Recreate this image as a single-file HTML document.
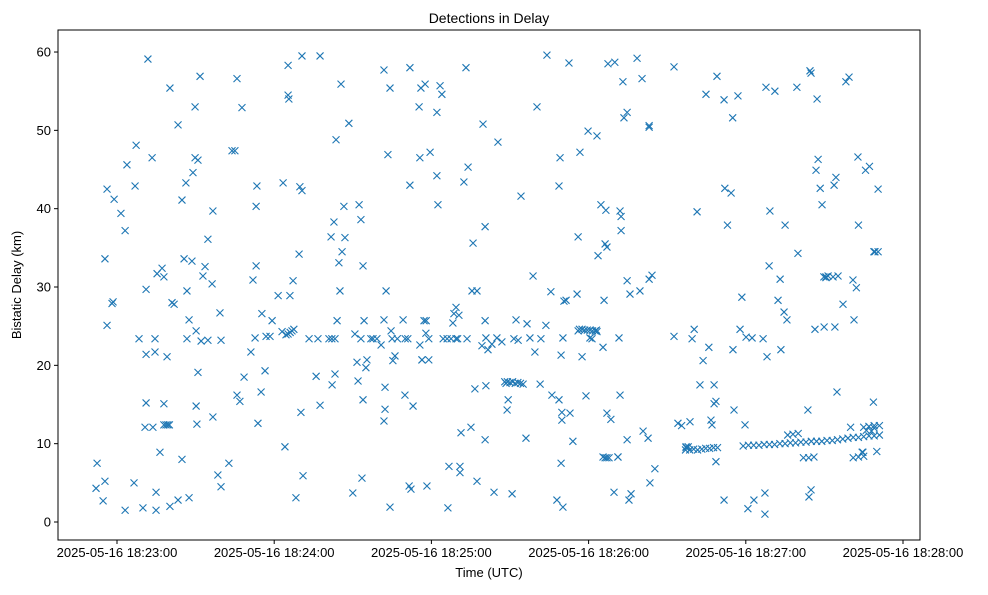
<!DOCTYPE html>
<html><head><meta charset="utf-8"><style>
body{margin:0;background:#fff;font-family:"Liberation Sans",sans-serif;}
svg text{font-family:"Liberation Sans",sans-serif;fill:#000;}
</style></head><body>
<svg id="chart" width="988" height="590" viewBox="0 0 988 590" xmlns="http://www.w3.org/2000/svg">
<rect width="988" height="590" fill="#fff"/>
<text x="489" y="23" font-size="14" text-anchor="middle">Detections in Delay</text>
<text x="489" y="577" font-size="13" text-anchor="middle">Time (UTC)</text>
<text transform="translate(21,285) rotate(-90)" font-size="13" text-anchor="middle">Bistatic Delay (km)</text>
<g id="grid"></g><g id="marks"></g>
<rect x="58" y="30" width="862" height="510" fill="none" stroke="#000" stroke-width="1"/>
</svg>
<script>
const xTickVals=[0,60,120,180,240,300];
const xTickLabels=["2025-05-16 18:23:00","2025-05-16 18:24:00","2025-05-16 18:25:00","2025-05-16 18:26:00","2025-05-16 18:27:00","2025-05-16 18:28:00"];
const yTickVals=[0,10,20,30,40,50,60];
const times=[-7.6,-8,-5.3,-4.6,-4.6,-3.8,-3.8,-1.9,-1.5,-1.1,1.5,3.1,3.1,3.8,6.5,6.9,7.3,8.4,9.9,11.1,11.8,11.1,11.1,10.7,13.4,14.9,13.7,14.5,14.5,14.9,15.3,16.4,17.2,17.9,17.9,17.9,18.7,19.4,20,19.1,20.2,20.2,21,21.8,23.3,23.3,24.8,24.8,25.6,26.3,26.7,26.7,27.5,27.5,28.6,29,29.8,29.8,30.2,30.2,30.5,30.9,30.9,31.7,32.1,32.8,33.6,34.7,34.7,36.3,36.6,36.6,38.5,39.7,39.3,39.7,42.7,43.9,45,45.8,45.8,46.9,47.7,48.5,51.1,52.7,53.1,53.1,51.9,53.4,53.8,55,55.3,56.5,56.9,58.4,59.2,61.5,63,63.4,64.1,64.5,65.3,66.1,66.8,67.5,65.3,65.3,65.6,66,67.2,68.3,69.5,69.8,70.6,70.2,70.6,71,73.3,76,76.7,77.5,77.5,80.9,82,83.2,81.7,82.1,82.8,83.2,83.6,84,84.7,85.1,85.9,85.5,86.6,87,88.5,90,90.8,91.6,92,92.4,93.1,93.1,93.5,93.9,93.9,94.3,95,95.4,96.9,97.7,99.2,100.8,101.9,101.9,102.3,101.9,102.3,102.7,103.4,104.2,104.2,104.6,105,107,105.3,106.1,109.2,109.9,110,111,111.5,111.8,112.2,111.8,113,115.3,115.6,115.6,116.4,117.2,118,117.9,116,116.4,117.6,118.3,119,119.5,119,122.1,122.1,122.5,123.3,124,124.5,126,127.5,126.3,126.7,128.2,128.6,129.4,130,129.4,130.5,130.9,130.9,131.3,132.4,133.2,133.6,134,135.1,135.9,135.5,136.6,137.4,137.4,139.3,139.7,140.5,140.5,140.5,140.8,140.8,141.6,143.1,143.9,145,145.4,146.9,148,149,150,151,152,153,154,155,148.5,148.9,149.3,150.8,151.5,152.3,153.1,154.2,156.1,156.5,157.6,158.8,159.5,160.3,161.5,161.8,163.7,164.1,165.6,166,167.9,168.7,168.7,169.1,169.5,169.5,169.8,169.8,170.2,170.2,170.6,171.4,172.5,172.9,174,175.6,176.5,177.5,178.5,179.5,180.5,181.5,182.5,183,176,176,176.7,177.5,179,179.8,180.5,181.3,183.2,183.2,183.6,184.7,185.5,186.3,187,187.8,185.5,186.3,186.6,187,187,185.9,187.4,188.5,189.7,190,191.2,191.2,191.6,192,192,192.4,192.4,193.1,193.5,194.7,194.7,194.7,195.4,195.8,196.2,198.5,199.6,200.4,200.8,202.7,203.1,203.1,203.1,203.4,204.2,205.3,212.6,212.6,214.1,215.5,217,218.6,220.1,221.6,223.2,224.7,226.2,227.7,229.2,217.2,217.2,218,218.7,219.5,220.3,221.4,222.5,223.7,224.8,225.9,226.7,227.1,227.9,227.9,228.6,228.6,229,231.7,231.7,232,234.4,235.1,235.5,237.8,238.5,239.7,240.1,240.8,242.4,243.1,246.6,247.3,247.3,247.7,248.1,248.9,249.2,251.1,252.3,253.1,253.4,254.6,255,255.7,259.5,259.9,263.7,264.1,264.5,264.9,264.9,266.4,266.8,267.2,267.6,268.4,269.1,269.9,270.6,271.4,269.8,270.6,273.3,273.7,274,274.4,274.8,275.2,277.1,278.2,279.4,280.9,281.3,282.2,283,282.8,284.4,284.7,285.7,287.2,288.7,288.9,289.3,290.5,290.5,233,235,237,239,241,243,245,247,249,251,253,255,257,259,261,263,265,267,269,271,273,275,277,279,281,283,285,287,289,291,256,258,260,262,264,266,281,283,285,287,289,291,285,289,280,286,288,290];
const delays=[7.5,4.3,2.7,5.2,33.6,42.5,25.1,27.9,28.1,41.2,39.4,37.2,1.5,45.6,5,42.9,48.1,23.4,1.8,29.7,59.1,21.4,15.2,12.1,46.5,3.8,12.1,23.4,21.7,1.5,31.7,8.9,32.4,31.3,15.1,12.4,12.4,12.4,12.4,21.1,55.4,2,28,27.8,50.7,2.8,8,41.1,33.6,43.3,29.5,23.4,3.1,25.8,33.3,44.6,53,46.5,24.4,14.8,12.5,19.1,46.2,56.9,23.1,31.4,32.6,36.1,23.2,30.4,39.7,13.4,6,23.2,26.7,4.5,7.5,47.4,47.4,56.6,16.2,15.4,52.9,18.5,21.7,23.5,40.3,32.7,30.9,42.9,12.6,16.6,26.6,19.3,23.7,23.7,25.7,28.9,24.3,43.3,9.6,23.9,24,24.2,24.4,24.6,58.3,54.5,54,28.9,30.8,3.1,34.2,42.8,42.3,14,59.5,5.9,23.4,18.6,23.4,59.5,14.9,23.4,23.4,23.4,36.4,17.5,38.3,18.9,48.8,25.7,33.1,29.5,34.5,55.9,40.3,36.3,50.9,3.7,24,20.4,18,40.5,23.4,38.6,5.6,32.7,15.6,25.7,19.7,20.7,23.4,23.4,23.4,22.6,57.7,25.8,17.2,12.9,14.4,29.5,46.9,55.4,1.9,24.4,23.4,23.4,20.6,21.2,25.8,16.2,23.4,23.4,4.6,58,4.2,43,14.8,53,22.6,46.5,20.7,25.7,25.7,24.1,55.4,20.7,55.9,4.6,20.7,47.2,23.4,44.2,52.3,40.5,55.7,54.6,23.4,23.4,23.4,1.8,7.1,25.4,26.6,27.4,23.4,23.4,26.4,7.1,6.3,11.4,43.4,58,23.4,45.3,12.1,35.6,29.5,17,5.2,29.5,22.5,50.8,37.7,25.7,10.5,17.4,23.5,22,22.7,3.8,23.5,48.5,23,17.9,17.9,17.8,17.9,17.7,17.8,17.7,17.6,17.7,14.3,15.6,3.6,23.4,25.8,23.2,41.6,10.7,25.3,23.5,31.4,21.7,53,17.6,23.4,25.1,59.6,29.4,16.2,2.8,15.6,42.9,46.5,21.3,7.5,14,13,23.5,1.9,28.2,28.3,58.6,13.9,10.3,29.1,24.6,24.6,24.5,24.5,24.5,24.4,24.4,24.5,24.4,36.4,47.2,21.1,16.1,49.9,23.5,23.4,24.3,49.3,34,40.5,22.3,8.2,8.2,8.2,8.3,35.5,39.8,35.1,13.9,28.3,58.5,13.1,3.8,58.7,8.3,8.3,23.5,16.2,39.7,39,37.2,56.2,51.6,52.3,30.8,10.5,2.8,29.1,3.6,59.2,29.5,56.6,11.6,10.7,50.6,50.4,31,5,31.5,6.8,23.7,58.1,12.6,12.3,9.2,9.2,9.3,9.2,9.3,9.4,9.4,9.5,9.5,9.5,9.6,9.6,12.8,23.4,24.6,39.6,17.5,20.6,54.6,22.3,13,12.4,15.1,17.5,15.4,7.7,56.9,53.9,2.8,42.6,42,22,14.3,24.6,28.7,12.4,23.6,1.7,23.5,2.8,23.4,3.7,1,55.5,21.1,32.7,39.7,55,28.3,31,22,26.8,37.9,25.8,55.5,34.3,14.3,3.2,57.6,57.3,4.1,24.6,44.9,54,46.3,42.6,40.5,24.9,31.3,31.4,31.3,31.2,31.3,43,24.9,44,16.6,31.4,27.8,56.2,56.8,30.9,25.8,29.9,37.9,46.6,8.9,8.9,44.9,45.4,15.3,34.5,34.5,34.5,42.5,37.9,51.6,54.4,9.7,9.8,9.8,9.8,9.9,9.9,9.9,10,10,10.1,10.1,10.2,10.2,10.3,10.3,10.3,10.4,10.4,10.5,10.6,10.7,10.8,10.8,10.9,11,11,11.1,11.1,11.2,11.3,8.2,8.2,8.3,8.2,8.3,8.4,12.2,12.3,12.3,12.1,12,12.1,11.7,11.6,9,9.1,9.1,9.3];
const NS="http://www.w3.org/2000/svg";
const X0=117,PXMIN=157.2/60,Y0=522,PYKM=7.833;
function xs(t){return X0+t*PXMIN;}
function ys(v){return Y0-v*PYKM;}
const svg=document.getElementById('chart'),grid=document.getElementById('grid'),marks=document.getElementById('marks');
xTickVals.forEach((t,i)=>{
 const x=xs(t);
 const l=document.createElementNS(NS,'line');
 l.setAttribute('x1',x);l.setAttribute('x2',x);l.setAttribute('y1',540);l.setAttribute('y2',544);l.setAttribute('stroke','#000');
 
 
 grid.appendChild(l);
 const tx=document.createElementNS(NS,'text');
 tx.setAttribute('x',x);tx.setAttribute('y',557);tx.setAttribute('font-size','13');tx.setAttribute('text-anchor','middle');
 tx.textContent=xTickLabels[i];
 
 
 grid.appendChild(tx);
});
yTickVals.forEach(v=>{
 const y=ys(v);
 const l=document.createElementNS(NS,'line');
 l.setAttribute('x1',54);l.setAttribute('x2',58);l.setAttribute('y1',y);l.setAttribute('y2',y);l.setAttribute('stroke','#000');
 
 
 grid.appendChild(l);
 const tx=document.createElementNS(NS,'text');
 tx.setAttribute('x',51);tx.setAttribute('y',y+4.5);tx.setAttribute('font-size','13');tx.setAttribute('text-anchor','end');
 tx.textContent=String(v);
 
 
 grid.appendChild(tx);
});
times.forEach((t,i)=>{
 const x=xs(t),y=ys(delays[i]),s=3.5;
 const p=document.createElementNS(NS,'path');
 p.setAttribute('d',`M${x-s},${y-s}L${x+s},${y+s}M${x-s},${y+s}L${x+s},${y-s}`);
 p.setAttribute('stroke','#1f77b4');p.setAttribute('stroke-width','1.1');p.setAttribute('fill','none');
 
 
 marks.appendChild(p);
});
</script>
</body></html>
